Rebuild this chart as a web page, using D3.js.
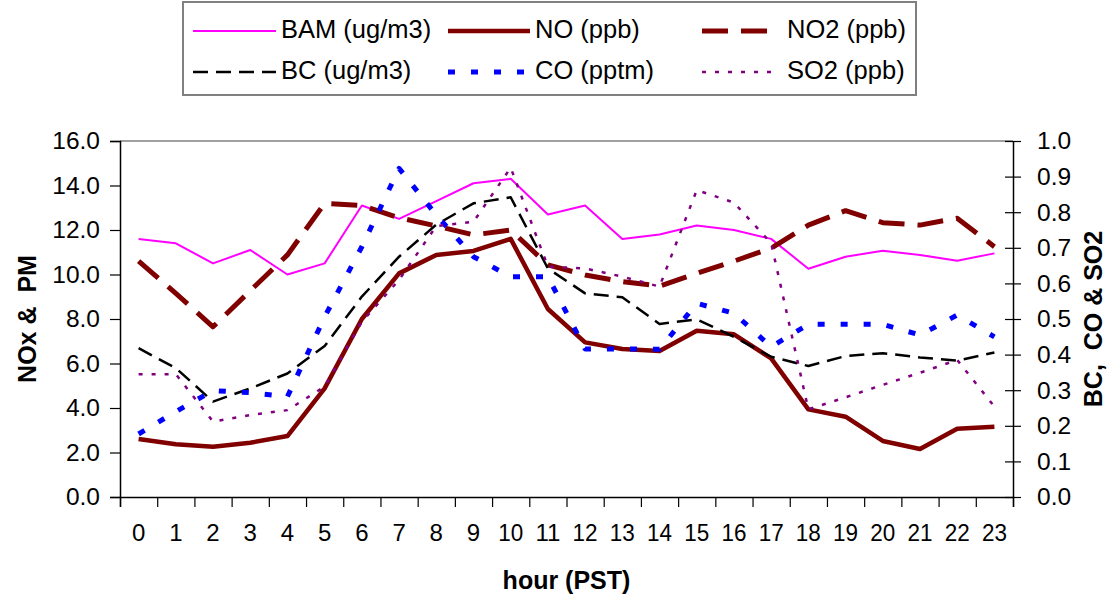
<!DOCTYPE html>
<html>
<head>
<meta charset="utf-8">
<script src="https://cdn.jsdelivr.net/npm/d3@7"></script>
<style>
  html, body { margin: 0; padding: 0; background: #fff; }
  svg { display: block; font-family: "Liberation Sans", Arial, sans-serif; }
</style>
</head>
<body>
<svg id="chart" width="1110" height="600"></svg>
<script>
// Hourly averages by hour of day (PST)
const hours = d3.range(0, 24);
const hourLabels = hours.map(String);

// Left axis series: NOx & PM
const bam = [11.6, 11.4, 10.5, 11.1, 10.0, 10.5, 13.1, 12.5, 13.3, 14.1, 14.3, 12.7,
             13.1, 11.6, 11.8, 12.2, 12.0, 11.6, 10.26, 10.8, 11.07, 10.88, 10.62, 10.95];
const no  = [2.61, 2.37, 2.26, 2.44, 2.74, 4.88, 8.0, 10.05, 10.88, 11.06, 11.6, 8.45,
             6.95, 6.65, 6.56, 7.47, 7.31, 6.23, 3.94, 3.61, 2.52, 2.16, 3.07, 3.16];
const no2 = [10.6, 9.15, 7.65, 9.27, 10.88, 13.2, 13.1, 12.55, 12.18, 11.78, 12.0, 10.43,
             9.98, 9.68, 9.48, 10.05, 10.6, 11.18, 12.22, 12.87, 12.33, 12.22, 12.53, 11.25];

// Right axis series: BC, CO & SO2
const bc  = [0.418, 0.362, 0.268, 0.305, 0.347, 0.424, 0.563, 0.675, 0.765, 0.825, 0.842, 0.642,
             0.572, 0.561, 0.486, 0.499, 0.45, 0.394, 0.368, 0.396, 0.404, 0.392, 0.383, 0.406];
const co  = [0.177, 0.24, 0.299, 0.293, 0.282, 0.506, 0.703, 0.923, 0.792, 0.675, 0.619, 0.619,
             0.416, 0.416, 0.415, 0.544, 0.516, 0.422, 0.485, 0.485, 0.485, 0.455, 0.511, 0.45];
const so2 = [0.345, 0.345, 0.212, 0.23, 0.244, 0.31, 0.492, 0.61, 0.761, 0.773, 0.925, 0.647,
             0.642, 0.619, 0.591, 0.862, 0.827, 0.713, 0.246, 0.28, 0.315, 0.349, 0.385, 0.254];

const leftTicks = d3.range(0, 16.01, 2);
const rightTicks = d3.range(0, 1.001, 0.1);

const series = [
  { name: "BAM (ug/m3)", values: bam, axis: "left",  color: "#FF00FF", width: 2,   dash: null },
  { name: "NO (ppb)",    values: no,  axis: "left",  color: "#800000", width: 4.5, dash: null },
  { name: "NO2 (ppb)",   values: no2, axis: "left",  color: "#800000", width: 5,   dash: "26,13" },
  { name: "BC (ug/m3)",  values: bc,  axis: "right", color: "#000000", width: 2.5, dash: "15,8" },
  { name: "CO (pptm)",   values: co,  axis: "right", color: "#0000FF", width: 5,   dash: "7,16" },
  { name: "SO2 (ppb)",   values: so2, axis: "right", color: "#800080", width: 2.5, dash: "4,9" }
];

const svg = d3.select("#chart");
const plot = { left: 120, right: 1013, top: 141, bottom: 497 };

const x = d3.scaleBand().domain(hours).range([plot.left, plot.right]).padding(0);
const xEdge = d3.scaleLinear().domain([0, 24]).range([plot.left, plot.right]);
const yL = d3.scaleLinear().domain([0, 16]).range([plot.bottom, plot.top]);
const yR = d3.scaleLinear().domain([0, 1]).range([plot.bottom, plot.top]);

const tickFont = 24.5;
const legendFont = 25.5;

// Plot area top border
svg.append("line")
  .attr("x1", plot.left).attr("x2", plot.right)
  .attr("y1", plot.top).attr("y2", plot.top)
  .attr("stroke", "#808080").attr("stroke-width", 1.5);

// Series lines
const gLines = svg.append("g");
series.forEach(s => {
  const y = s.axis === "left" ? yL : yR;
  const line = d3.line()
    .x((d, i) => x(hours[i]) + x.bandwidth() / 2)
    .y(d => y(d));
  gLines.append("path")
    .datum(s.values)
    .attr("d", line)
    .attr("fill", "none")
    .attr("stroke", s.color)
    .attr("stroke-width", s.width)
    .attr("stroke-dasharray", s.dash)
    .attr("stroke-linejoin", "round");
});

// Bottom axis: tick marks at category edges, labels at category centres
const gX = svg.append("g").attr("transform", `translate(0,${plot.bottom})`);
gX.call(d3.axisBottom(xEdge).tickValues(d3.range(0, 25)).tickSize(10).tickFormat(""));
gX.select(".domain").attr("stroke", "#000").attr("stroke-width", 1.5);
gX.selectAll(".tick line").attr("stroke", "#000").attr("stroke-width", 1.2);

const gXl = svg.append("g").attr("transform", `translate(0,${plot.bottom})`);
gXl.call(d3.axisBottom(x).tickSize(0).tickPadding(27).tickFormat(i => hourLabels[i]));
gXl.select(".domain").remove();
gXl.selectAll("text").attr("font-size", 24).attr("fill", "#000")
  .attr("font-family", "Liberation Sans, Arial, sans-serif")
  .attr("textLength", function () { return this.textContent.length > 1 ? 25 : null; })
  .attr("lengthAdjust", "spacingAndGlyphs");

// Left axis
const gY = svg.append("g").attr("transform", `translate(${plot.left},0)`);
gY.call(d3.axisLeft(yL).tickValues(leftTicks).tickSize(10).tickPadding(10).tickFormat(d3.format(".1f")));
gY.select(".domain").attr("stroke", "#000").attr("stroke-width", 1.5);
gY.selectAll(".tick line").attr("stroke", "#000").attr("stroke-width", 1.2);
gY.selectAll("text").attr("font-size", tickFont).attr("fill", "#000")
  .attr("font-family", "Liberation Sans, Arial, sans-serif");

// Right axis (ticks cross the axis line)
const gYR = svg.append("g").attr("transform", `translate(${plot.right},0)`);
gYR.call(d3.axisRight(yR).tickValues(rightTicks).tickSizeInner(8).tickSizeOuter(0)
  .tickPadding(16).tickFormat(d3.format(".1f")));
gYR.select(".domain").attr("stroke", "#000").attr("stroke-width", 1.5);
gYR.selectAll(".tick line").attr("x1", -8).attr("stroke", "#000").attr("stroke-width", 1.2);
gYR.selectAll("text").attr("font-size", tickFont).attr("fill", "#000")
  .attr("font-family", "Liberation Sans, Arial, sans-serif");

// Axis titles
svg.append("text")
  .attr("x", (plot.left + plot.right) / 2).attr("y", 589)
  .attr("text-anchor", "middle").attr("font-size", 25).attr("font-weight", "bold")
  .text("hour (PST)");

svg.append("text")
  .attr("transform", `translate(36,${(plot.top + plot.bottom) / 2}) rotate(-90)`)
  .attr("text-anchor", "middle").attr("font-size", 25).attr("font-weight", "bold")
  .attr("xml:space", "preserve").style("white-space", "pre")
  .text("NOx &  PM");

svg.append("text")
  .attr("transform", `translate(1102,${(plot.top + plot.bottom) / 2}) rotate(-90)`)
  .attr("text-anchor", "middle").attr("font-size", 25).attr("font-weight", "bold")
  .attr("xml:space", "preserve").style("white-space", "pre")
  .text("BC,  CO & SO2");

// Legend
const legend = svg.append("g");
legend.append("rect")
  .attr("x", 183).attr("y", 2).attr("width", 733).attr("height", 93)
  .attr("fill", "#fff").attr("stroke", "#808080").attr("stroke-width", 2);

const legendCols = [
  { x1: 193, x2: 276, tx: 281 },
  { x1: 448, x2: 530, tx: 535 },
  { x1: 702, x2: 774, tx: 787 }
];
const legendRows = [31, 72];

series.forEach((s, i) => {
  const col = legendCols[i % 3];
  const ry = legendRows[Math.floor(i / 3)];
  legend.append("line")
    .attr("x1", col.x1).attr("x2", col.x2).attr("y1", ry).attr("y2", ry)
    .attr("stroke", s.color).attr("stroke-width", s.width)
    .attr("stroke-dasharray", s.dash);
  legend.append("text")
    .attr("x", col.tx).attr("y", ry + 7)
    .attr("font-size", legendFont).attr("fill", "#000")
    .text(s.name);
});
</script>
</body>
</html>
